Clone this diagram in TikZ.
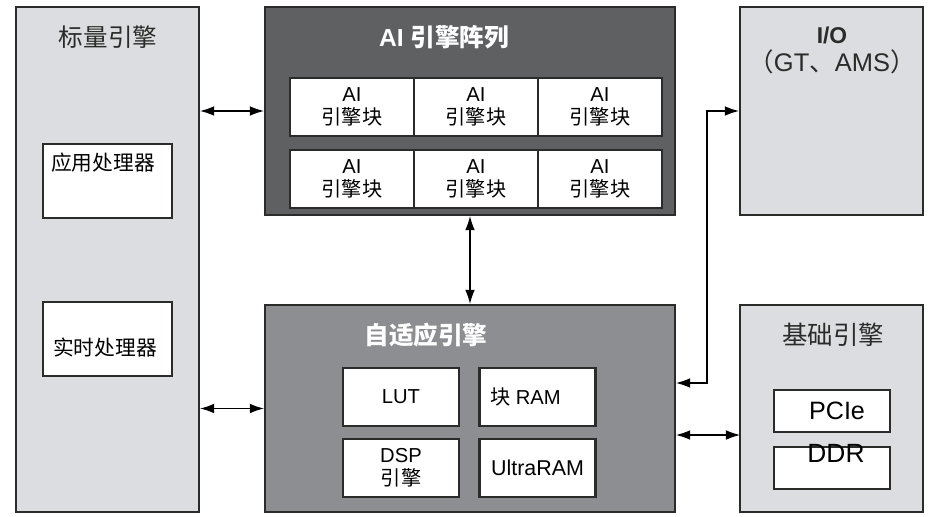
\documentclass[tikz,border=0pt]{standalone}
\usepackage{fontspec}
\setmainfont{Liberation Sans}
\newfontfamily\cjk{Noto Sans CJK SC}
\usetikzlibrary{positioning,arrows.meta}
\definecolor{lightpanel}{HTML}{DCDDE0}
\definecolor{darkpanel}{HTML}{5F6062}
\definecolor{midpanel}{HTML}{8D8E91}
\definecolor{edge}{HTML}{2B2B2B}

\begin{document}
\begin{tikzpicture}[x=0.02cm, y=-0.02cm, >={Latex[length=8pt,width=5.5pt]},
  panel/.style={draw=edge, line width=1.3pt, inner sep=0pt},
  unit/.style={draw=edge, line width=1.3pt, fill=white, inner sep=0pt, align=center},
  link/.style={<->, line width=0.6pt, draw=black}]
\useasboundingbox (0,0) rectangle (933,517);

% Engines
\node[panel, fill=lightpanel, minimum width=3.66cm, minimum height=10.1cm] (scalar) at (107.5,259.5) {};
\node[panel, fill=darkpanel, minimum width=8.2cm, minimum height=4.16cm] (aiarr) at (470,111) {};
\node[panel, fill=midpanel, minimum width=8.2cm, minimum height=4.14cm] (adapt) at (470,408.5) {};
\node[panel, fill=lightpanel, minimum width=3.66cm, minimum height=4.16cm] (io) at (831.5,111) {};
\node[panel, fill=lightpanel, minimum width=3.66cm, minimum height=4.14cm] (base) at (831.5,408.5) {};

% Titles
\node[font=\fontsize{14}{16}\selectfont\cjk, text=edge] (scalartitle) at (108,37) {标量引擎};
\node[font=\fontsize{14}{16}\selectfont\bfseries, text=white] (aititle) at (444,37) {AI {\cjk\bfseries 引擎阵列}};
\node[font=\fontsize{14}{16}\selectfont\cjk\bfseries, text=white] (adapttitle) at (426,335) {自适应引擎};
\node[font=\fontsize{13}{15}\selectfont\bfseries, text=edge] (iotitle) at (832,35) {I/O};
\node[font=\fontsize{14.5}{16}\selectfont, text=edge] (iosub) at (832,62) {{\cjk （}GT{\cjk 、}AMS{\cjk ）}};
\node[font=\fontsize{14.5}{16}\selectfont\cjk, text=edge] (basetitle) at (833,335) {基础引擎};

% Scalar engine units
\node[unit, minimum width=2.58cm, minimum height=1.48cm] (app) at (107.5,181) {};
\node[font=\fontsize{11.8}{14}\selectfont\cjk, anchor=west] (applabel) at (45,163) {应用处理器};
\node[unit, minimum width=2.58cm, minimum height=1.48cm] (rt) at (107.5,339) {};
\node[font=\fontsize{11.8}{14}\selectfont\cjk] (rtlabel) at (105,348) {实时处理器};

% AI engine blocks
\node[unit, minimum width=2.48cm, minimum height=1.16cm, font=\fontsize{11.5}{13}\selectfont] (ai11) at (352,107) {AI\\{\cjk 引擎块}};
\node[unit, minimum width=2.48cm, minimum height=1.16cm, font=\fontsize{11.5}{13}\selectfont] (ai12) [right=-1.3pt of ai11] {AI\\{\cjk 引擎块}};
\node[unit, minimum width=2.48cm, minimum height=1.16cm, font=\fontsize{11.5}{13}\selectfont] (ai13) [right=-1.3pt of ai12] {AI\\{\cjk 引擎块}};
\node[unit, minimum width=2.48cm, minimum height=1.16cm, font=\fontsize{11.5}{13}\selectfont] (ai21) at (352,179) {AI\\{\cjk 引擎块}};
\node[unit, minimum width=2.48cm, minimum height=1.16cm, font=\fontsize{11.5}{13}\selectfont] (ai22) [right=-1.3pt of ai21] {AI\\{\cjk 引擎块}};
\node[unit, minimum width=2.48cm, minimum height=1.16cm, font=\fontsize{11.5}{13}\selectfont] (ai23) [right=-1.3pt of ai22] {AI\\{\cjk 引擎块}};

% Adaptive engine units
\node[unit, minimum width=2.32cm, minimum height=1.16cm, font=\fontsize{11.5}{13}\selectfont] (lut) at (401,397) {LUT};
\node[unit, minimum width=2.32cm, minimum height=1.16cm, font=\fontsize{11.5}{13}\selectfont] (bram) at (537.5,397) {{\cjk 块} RAM\hspace{1.2em}};
\node[unit, minimum width=2.32cm, minimum height=1.16cm, font=\fontsize{11.5}{13}\selectfont] (dsp) at (401,468) {DSP\\{\cjk 引擎}\hspace{0.6em}};
\node[unit, minimum width=2.32cm, minimum height=1.16cm, font=\fontsize{12.2}{13}\selectfont] (uram) at (537.5,468) {UltraRAM};

% Base engine units
\node[unit, minimum width=2.32cm, minimum height=0.84cm, font=\fontsize{14.3}{15}\selectfont] (pcie) at (832,411) {\hspace{0.4em}PCIe};
\node[unit, minimum width=2.32cm, minimum height=0.84cm] (ddr) at (832,468) {};
\node[font=\fontsize{15}{15}\selectfont] (ddrlabel) at (836,453) {DDR};

% Links
\coordinate (iobend) at (707,383);
\coordinate (basein) at (740,435);
\draw[link] (aiarr.west -| scalar.east) -- (aiarr.west);
\draw[link] (adapt.west -| scalar.east) -- (adapt.west);
\draw[link] (aiarr.south) -- (adapt.north);
\draw[link] (iobend -| adapt.east) -- (iobend) |- (io.west);
\draw[link] (basein -| adapt.east) -- (basein);

\end{tikzpicture}
\end{document}
